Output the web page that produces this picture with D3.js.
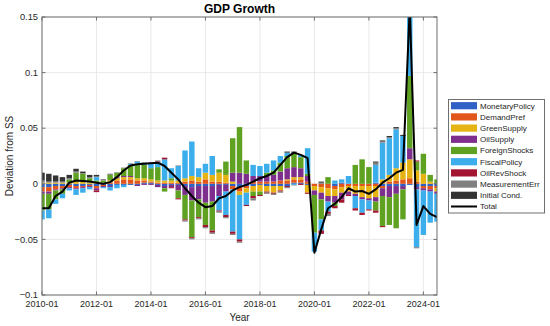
<!DOCTYPE html>
<html><head><meta charset="utf-8">
<script src="https://cdn.jsdelivr.net/npm/d3@7"></script>
<style>body{margin:0;background:#fff} text{font-family:"Liberation Sans",Arial,Helvetica,sans-serif;fill:#262626}</style>
</head><body><svg id="c" width="550" height="326"></svg>
<script>
const quarters = ["2010Q1","2010Q2","2010Q3","2010Q4","2011Q1","2011Q2","2011Q3","2011Q4","2012Q1","2012Q2","2012Q3","2012Q4",
"2013Q1","2013Q2","2013Q3","2013Q4","2014Q1","2014Q2","2014Q3","2014Q4","2015Q1","2015Q2","2015Q3","2015Q4",
"2016Q1","2016Q2","2016Q3","2016Q4","2017Q1","2017Q2","2017Q3","2017Q4","2018Q1","2018Q2","2018Q3","2018Q4",
"2019Q1","2019Q2","2019Q3","2019Q4","2020Q1","2020Q2","2020Q3","2020Q4","2021Q1","2021Q2","2021Q3","2021Q4",
"2022Q1","2022Q2","2022Q3","2022Q4","2023Q1","2023Q2","2023Q3","2023Q4","2024Q1","2024Q2","2024Q3"];

const seriesNames = ["MonetaryPolicy","DemandPref","GreenSupply","OilSupply","ForeignShocks","FiscalPolicy","OilRevShock","MeasurementErr","Initial Cond."];
const seriesColors = ["#2f62c4","#e2561b","#e6b412","#7e2f8e","#5fa222","#3caeec","#a2142f","#808080","#333333"];

const MonetaryPolicy = [-0.003,-0.003,-0.002,-0.002,-0.001,-0.002,-0.002,-0.001,-0.002,-0.001,-0.002,-0.001,
-0.001,-0.001,-0.001,0.001,0.001,-0.001,-0.002,-0.001,-0.001,-0.002,-0.003,-0.002,
-0.002,-0.002,-0.001,-0.001,-0.002,-0.003,-0.002,-0.002,-0.001,-0.002,-0.002,-0.002,
-0.002,0.001,0.001,-0.001,0,0,0,-0.002,0.001,0,0,0,
0,0.001,-0.002,-0.002,-0.002,-0.002,-0.001,-0.003,-0.002,-0.002,-0.002];
const DemandPref = [-0.004,-0.004,-0.003,-0.002,-0.002,-0.002,-0.001,-0.001,-0.002,-0.001,0.001,0.003,
0.004,0.004,0.003,0.002,0.001,0.001,0.001,0.001,0.001,0.002,0.003,0.002,
0.004,0.002,0.002,0.001,-0.003,-0.004,-0.002,0.002,0.002,0.002,0.002,0.003,
0.003,0.003,0.003,0.002,-0.002,-0.003,-0.004,-0.003,-0.003,-0.002,-0.002,-0.002,
-0.002,-0.002,-0.002,0.002,0.003,0.004,0.005,0.002,-0.002,-0.003,-0.002];
const GreenSupply = [0.001,0.001,0.001,0.001,0.001,0.002,0.002,0.001,0.001,0.001,0.002,0.002,
0.002,0.002,0.002,0.002,0.002,0.002,0.002,0.002,0.002,0.003,0.004,0.004,
0.006,0.006,0.008,0.007,0.002,-0.003,-0.004,-0.005,-0.006,-0.005,-0.006,-0.004,
0.001,0.002,0.002,-0.007,-0.004,-0.005,-0.007,-0.006,-0.005,-0.005,-0.007,-0.010,
-0.011,-0.010,0.004,0.006,0.011,0.015,0.017,0.010,0.009,0.002,-0.003];
const OilSupply = [-0.002,-0.002,-0.001,-0.001,-0.001,-0.001,-0.001,-0.001,-0.002,-0.001,-0.001,0.001,
0.001,0.001,-0.001,-0.001,-0.001,-0.002,-0.002,-0.002,-0.005,-0.008,-0.012,-0.012,
-0.015,-0.014,-0.010,-0.006,0.008,0.010,0.009,0.005,0.005,0.005,0.006,0.008,
0.010,0.009,0.008,0.005,-0.004,-0.006,-0.005,-0.006,-0.006,-0.003,-0.002,-0.002,
-0.002,-0.004,-0.007,-0.010,-0.007,-0.003,0.010,-0.002,-0.002,-0.002,-0.002];
const ForeignShocks = [-0.015,-0.014,-0.008,-0.004,0.003,0.008,0.007,0.004,0.002,0.002,0.005,0.004,
0.007,0.010,0.013,0.012,0.010,0.012,-0.003,0.002,-0.007,-0.022,-0.033,-0.016,
-0.020,-0.026,0.003,0.012,0.031,0.041,0.012,-0.004,-0.003,0.003,0.004,0.008,
0.011,0.013,0.010,0.002,-0.034,-0.018,0.006,-0.003,0,0,0.017,0.022,
0.015,-0.008,-0.027,-0.025,-0.031,-0.027,0.065,0.008,0.018,0.006,0.004];
const FiscalPolicy = [-0.008,-0.008,-0.004,-0.004,-0.002,-0.005,-0.004,-0.002,0.003,-0.001,-0.003,-0.003,
-0.002,0.001,0.002,0.002,0.005,0.005,0.019,0.009,0.013,0.025,0.031,0.008,
0.008,0.017,-0.013,-0.021,-0.038,-0.040,-0.011,0.010,0.009,0.008,0.009,0.006,
0.003,-0.001,0.002,0.023,-0.017,-0.010,-0.009,0.003,0.003,0.007,-0.011,-0.012,
-0.008,0.016,0.033,0.033,0.035,0.024,0.063,-0.052,-0.040,-0.028,-0.025];
const OilRevShock = [0,0,0,0,0,0,0,0,-0.0015,0,0,0,
0,0,0,0,0,0.0005,0.0015,-0.001,-0.001,-0.001,-0.001,-0.001,
-0.002,-0.002,-0.001,-0.002,-0.002,-0.002,-0.001,-0.002,-0.001,-0.001,-0.001,-0.001,
-0.001,0,-0.001,-0.001,0,-0.003,-0.002,-0.002,-0.003,-0.001,-0.002,-0.002,
-0.001,-0.002,-0.001,0,0,0,0,0.001,0,0,0];
const MeasurementErr = [0.002,0.001,0.001,0.001,0.001,0.001,0.0005,0.001,0.001,0.0005,0.0005,0.0005,
0.0003,0.0005,0.0005,0.0005,0.0005,0.0005,0,0,0.0005,-0.001,-0.001,-0.001,
-0.001,-0.001,-0.001,-0.001,-0.001,-0.001,0,-0.002,0,-0.001,-0.001,-0.001,
-0.001,-0.0005,0,0,0,0.001,-0.002,0,0,0,0,0,
0,0.002,0.001,0.001,0.001,0,0,-0.001,0,0,0];
const InitialCond = [0.007,0.007,0.0055,0.004,0.003,0.0025,0.0015,0.002,0.001,0.0005,0.0005,0,
0.0002,0,0,0,0,0,0,0,0,0,0,0,
0,0,0,0,0,0,0,0,0,0,0,0,
0.001,0.001,0,0,0,0.001,0,0,0,0,0,0,
0,0.001,0.001,0.001,0.001,0.001,0,0,0,0,0];
const Total = [-0.022,-0.022,-0.011,-0.007,0.001,0.003,0.0025,0.002,0.001,0.000,0.0015,0.006,
0.012,0.0165,0.0175,0.018,0.0185,0.019,0.016,0.010,0.004,-0.004,-0.011,-0.017,
-0.021,-0.020,-0.013,-0.011,-0.006,-0.003,-0.001,0.002,0.005,0.007,0.010,0.017,
0.024,0.028,0.026,0.023,-0.062,-0.041,-0.022,-0.018,-0.012,-0.004,-0.007,-0.0065,
-0.009,-0.005,0.001,0.005,0.010,0.0125,0.159,-0.037,-0.020,-0.027,-0.030];

const xTickQuarters = ["2010Q1","2012Q1","2014Q1","2016Q1","2018Q1","2020Q1","2022Q1","2024Q1"];
const xTickLabels = ["2010-01","2012-01","2014-01","2016-01","2018-01","2020-01","2022-01","2024-01"];
const yTicks = [-0.1,-0.05,0,0.05,0.1,0.15];
const yTickLabels = ["\u22120.1","\u22120.05","0","0.05","0.1","0.15"];

const seriesData = [MonetaryPolicy,DemandPref,GreenSupply,OilSupply,ForeignShocks,FiscalPolicy,OilRevShock,MeasurementErr,InitialCond];
const rows = quarters.map((q,i)=>{const r={q:q,i:i}; seriesNames.forEach((n,k)=>r[n]=seriesData[k][i]); return r;});

const svg = d3.select("#c");
const L=42,R=437,T=17,B=295;
const x = d3.scaleLinear().domain([0, quarters.length-1]).range([L,R]);
const y = d3.scaleLinear().domain([-0.1,0.15]).range([B,T]);
const step = x(1)-x(0);
const bw = step*0.8;

svg.append("defs").append("clipPath").attr("id","clip").append("rect")
  .attr("x",L).attr("y",T).attr("width",R-L).attr("height",B-T);

// grid
const g = svg.append("g");
const xTickPos = xTickQuarters.map(q=>quarters.indexOf(q));
g.selectAll("line.gx").data(xTickPos).join("line").attr("class","gx")
  .attr("x1",d=>x(d)).attr("x2",d=>x(d)).attr("y1",T).attr("y2",B)
  .attr("stroke","#e3e3e3").attr("stroke-width",0.8);
g.selectAll("line.gy").data(yTicks).join("line").attr("class","gy")
  .attr("x1",L).attr("x2",R).attr("y1",d=>y(d)).attr("y2",d=>y(d))
  .attr("stroke","#e3e3e3").attr("stroke-width",0.8);

// bars
const stack = d3.stack().keys(seriesNames).offset(d3.stackOffsetDiverging);
const stacked = stack(rows);
const plot = svg.append("g").attr("clip-path","url(#clip)");
plot.selectAll("g.s").data(stacked).join("g").attr("class","s").attr("fill",(d,k)=>seriesColors[k])
  .selectAll("rect").data(d=>d).join("rect")
  .attr("x",d=>x(d.data.i)-bw/2).attr("width",bw)
  .attr("y",d=>y(Math.max(d[0],d[1]))).attr("height",d=>Math.abs(y(d[0])-y(d[1])));

// total line
plot.append("path").datum(Total)
  .attr("d", d3.line().x((d,i)=>x(i)).y(d=>y(d)))
  .attr("fill","none").attr("stroke","#000").attr("stroke-width",2).attr("stroke-linejoin","round");

// axes box + ticks
const ax = svg.append("g");
ax.append("rect").attr("x",L).attr("y",T).attr("width",R-L).attr("height",B-T)
  .attr("fill","none").attr("stroke","#6f6f6f").attr("stroke-width",1);
const tl=3.5;
xTickPos.forEach(p=>{
  ax.append("line").attr("x1",x(p)).attr("x2",x(p)).attr("y1",B).attr("y2",B-tl).attr("stroke","#6f6f6f");
  ax.append("line").attr("x1",x(p)).attr("x2",x(p)).attr("y1",T).attr("y2",T+tl).attr("stroke","#6f6f6f");
});
yTicks.forEach(v=>{
  ax.append("line").attr("x1",L).attr("x2",L+tl).attr("y1",y(v)).attr("y2",y(v)).attr("stroke","#6f6f6f");
  ax.append("line").attr("x1",R).attr("x2",R-tl).attr("y1",y(v)).attr("y2",y(v)).attr("stroke","#6f6f6f");
});
ax.selectAll("text.xt").data(xTickPos).join("text").attr("class","xt")
  .attr("x",d=>x(d)).attr("y",B+12).attr("text-anchor","middle").attr("font-size",9).text((d,k)=>xTickLabels[k]);
ax.selectAll("text.yt").data(yTicks).join("text").attr("class","yt")
  .attr("x",L-4).attr("y",d=>y(d)+3.2).attr("text-anchor","end").attr("font-size",9.3).text((d,k)=>yTickLabels[k]);

svg.append("text").attr("x",(L+R)/2).attr("y",13).attr("text-anchor","middle")
  .attr("font-size",12).attr("font-weight","bold").style("fill","#000").text("GDP Growth");
svg.append("text").attr("x",(L+R)/2).attr("y",321).attr("text-anchor","middle")
  .attr("font-size",10).text("Year");
svg.append("text").attr("transform",`translate(12.5,${(T+B)/2}) rotate(-90)`).attr("text-anchor","middle")
  .attr("font-size",10).text("Deviation from SS");

// legend
const lg = svg.append("g");
lg.append("rect").attr("x",448.5).attr("y",99.5).attr("width",96).attr("height",113.5)
  .attr("fill","#fff").attr("stroke","#6f6f6f").attr("stroke-width",1);
const legendItems = seriesNames.concat(["Total"]);
legendItems.forEach((n,k)=>{
  const cy = 105.7 + k*11.2;
  if(k<seriesNames.length){
    lg.append("rect").attr("x",451).attr("y",cy-3.6).attr("width",26).attr("height",7.2).attr("fill",seriesColors[k]);
  } else {
    lg.append("line").attr("x1",451).attr("x2",477).attr("y1",cy).attr("y2",cy).attr("stroke","#000").attr("stroke-width",2);
  }
  lg.append("text").attr("x",480).attr("y",cy+2.9).attr("font-size",8).text(n);
});
</script></body></html>
